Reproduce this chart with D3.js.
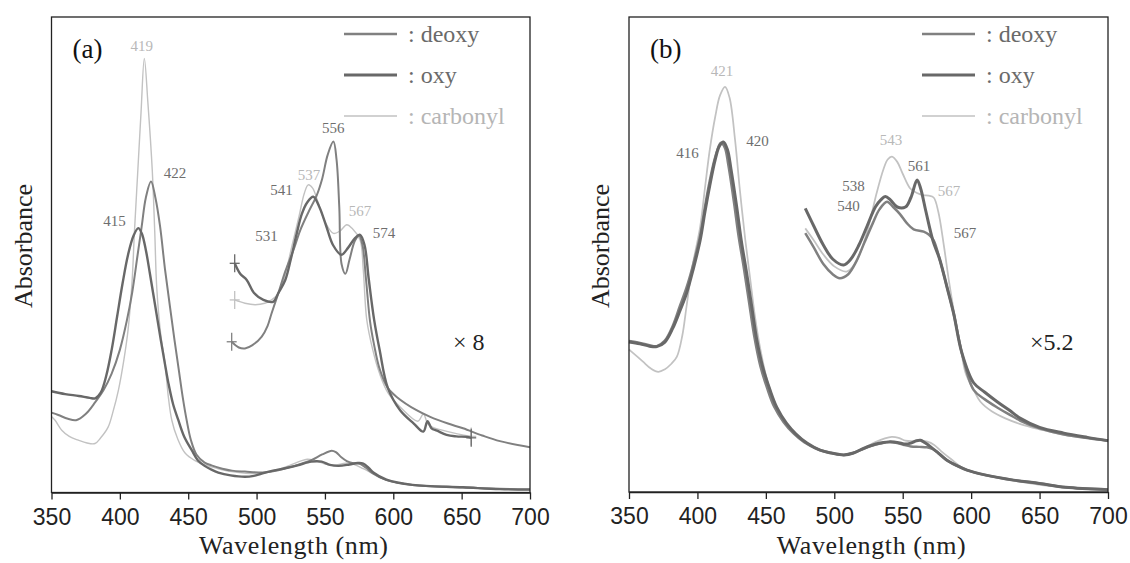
<!DOCTYPE html>
<html>
<head>
<meta charset="utf-8">
<script src="https://cdn.jsdelivr.net/npm/d3@7"></script>
<style>
  body { margin: 0; background: #fff; }
  svg { display: block; }
</style>
</head>
<body>
<svg id="chart" width="1130" height="563"></svg>
<script>
// ---- panel (a) ----
const deoxyA_wl = [350,355,362,368,375,382,388,394,400,405,409,413,416,419,422.8,426,429.4,433,436.7,440,443,446,449,452,456,462,467,475,482,491.5,506,515,521,530,540,548,555,558,562,566,570,576,580,585,595,614,651,678,700];
const deoxyA_abs = [.168,.163,.155,.152,.165,.19,.215,.25,.30,.36,.42,.50,.56,.62,.654,.62,.56,.47,.39,.32,.26,.20,.15,.11,.08,.063,.057,.05,.046,.044,.042,.046,.051,.058,.068,.08,.088,.085,.074,.066,.062,.06,.052,.04,.026,.016,.011,.008,.007];

const oxyA_wl = [350,360,370,378,382,386,390,394,398,402,406,410,413.5,416,419,422,426,430,433,435.5,439,442.8,447,452.6,457,462,467,472,481,491.5,498,503.8,512,521,530,540,547.6,553.7,560,568,574,578,582,585.4,595,614,651,678,700];
const oxyA_abs = [.213,.207,.203,.199,.198,.21,.245,.30,.37,.44,.50,.54,.556,.545,.51,.46,.39,.32,.27,.23,.185,.152,.118,.089,.068,.056,.048,.042,.036,.033,.035,.040,.046,.051,.057,.065,.065,.058,.056,.059,.062,.061,.052,.042,.027,.016,.011,.007,.006];

const carbonylA_wl = [350,352.6,357.5,363,369.6,376,381.8,386,391.5,395,399,403,406,409,410.6,413,415.5,417.9,420.5,423.7,425.5,427,430,433,435.5,438,442,447.7,455,462,472,481.8,495,506,515,525,532,537,542,550,557,562,567,572,578,585,595,614,651,700];
const carbonylA_abs = [.16,.152,.131,.118,.11,.104,.103,.115,.138,.17,.216,.28,.342,.447,.545,.67,.80,.913,.82,.678,.55,.43,.33,.272,.20,.152,.115,.083,.067,.058,.05,.044,.04,.042,.048,.058,.066,.07,.068,.06,.058,.06,.062,.058,.05,.04,.026,.016,.010,.006];

// x8 magnified
const deoxyXA_wl = [481.8,487,491.5,497,503.8,508,511,516,521,527,532,538,544,548,552,556.2,558.5,560.5,562.2,565,568,572,575,577.5,580,583,586,590,596,602.5,617,627,640,651,665,678,700];
const deoxyXA_abs = [.317,.305,.303,.31,.328,.35,.377,.42,.465,.51,.552,.59,.625,.66,.71,.738,.70,.60,.48,.46,.49,.53,.54,.52,.45,.36,.31,.26,.22,.201,.173,.159,.145,.135,.12,.108,.095];

const oxyXA_wl = [484,488,492.8,498,505,512,516,521,525,529.4,533,537,541.5,546,551,556,562,567,572,575.7,579,582,586,590,596,605,615,622,625,628,632,639,646,653.7,657];
const oxyXA_abs = [.482,.46,.447,.42,.405,.401,.42,.447,.49,.545,.585,.61,.622,.60,.56,.52,.50,.515,.535,.542,.52,.45,.363,.30,.22,.173,.145,.128,.15,.135,.13,.121,.118,.117,.115];

const carbonylXA_wl = [484,491.5,499,506,511,516,521,526,531,535,537.8,541,545,550,556.2,561,566,570,575.7,578,580.6,585,590,596,605,618,622,626,640,657];
const carbonylXA_abs = [.405,.398,.395,.398,.405,.419,.46,.52,.58,.63,.647,.64,.61,.57,.545,.55,.563,.555,.531,.47,.363,.30,.25,.21,.18,.15,.165,.142,.128,.118];

const labelsA_text = ["419","422","415","556","537","541","567","574","531"];
const labelsA_wl = [416,440.3,396,556.1,538.4,518.3,575.7,593.2,507.3];
const labelsA_abs = [.928,.661,.560,.756,.657,.626,.581,.535,.529];
const labelsA_series = ["carbonyl","deoxy","oxy","deoxy","carbonyl","oxy","carbonyl","oxy","oxy"];

// ---- panel (b) ----
const oxyB_wl = [350,358,365,370.3,376,382,387,392,397,402,405.5,409,413,416,419,422,424.5,428.7,432,436,439.7,443.4,448,453,458,465,472,480,489.6,498,507,514,521.4,527,533.6,541,547,551,556,560,563,566,570,576,582.3,590,597,610,631,650,669,700];
const oxyB_abs = [.316,.312,.307,.306,.315,.345,.38,.418,.47,.53,.59,.645,.70,.728,.737,.72,.68,.60,.53,.46,.39,.32,.26,.215,.178,.145,.122,.103,.088,.082,.078,.082,.092,.098,.103,.106,.104,.101,.103,.108,.109,.104,.096,.082,.067,.055,.046,.036,.025,.018,.01,.005];

const deoxyB_wl = [350,358,365,370.3,376,382,387,392,397,402,405.5,409,413,417,420,422.5,426.7,430,434,437.7,441.4,446,451,456,463,470,478,488,498,507,514,521.4,527,533.6,540,546,551,556,562,567.7,572,577,582.3,590,597,610,631,650,669,700];
const deoxyB_abs = [.318,.314,.309,.307,.318,.35,.39,.43,.48,.54,.60,.655,.705,.735,.725,.69,.61,.54,.47,.40,.33,.265,.218,.18,.147,.124,.105,.09,.082,.078,.082,.091,.097,.102,.105,.103,.099,.096,.095,.094,.09,.08,.067,.055,.046,.036,.025,.018,.01,.005];

const carbonylB_wl = [350,352,360,366,371.4,376,381,385,389,392,396,402,405.5,409,413,416.5,420.2,423.5,427.5,431,435,438.5,442,446,451,457,465,480,490,500,509,520,530,537,542,547,552,557,562,568,573,578,585,597,631,669,700];
const carbonylB_abs = [.30,.295,.275,.26,.253,.258,.27,.285,.33,.39,.47,.558,.64,.72,.79,.835,.853,.83,.741,.636,.53,.45,.37,.30,.235,.185,.145,.103,.088,.08,.079,.09,.105,.113,.116,.114,.108,.107,.108,.106,.099,.086,.07,.046,.024,.009,.005];

// x5.2 magnified
const oxyXB_wl = [478.8,485,492,499,506.8,512,518,524,530,534,537.3,541,546,552,556,560.5,563,567,572,577,582.3,587.2,593.3,601.8,610,619,628,636,650,667.7,685,700];
const oxyXB_abs = [.597,.56,.52,.49,.478,.49,.52,.56,.60,.615,.622,.615,.60,.60,.62,.657,.64,.59,.53,.49,.432,.376,.292,.23,.21,.19,.172,.155,.136,.124,.115,.108];

const deoxyXB_wl = [478.8,485,492,499,504,510,516,522,528,533,538.5,543,548,553,558,565.3,569,572.6,577,582.3,587.2,593.3,601.8,610,619,628,636,650,668,700];
const deoxyXB_abs = [.545,.515,.48,.458,.45,.458,.485,.525,.565,.595,.611,.60,.585,.566,.553,.548,.542,.53,.49,.432,.376,.292,.215,.195,.178,.163,.15,.134,.121,.108];

const carbonylXB_wl = [478.8,485,492,500,509,515,521,526,531,536,539,542.1,546,550,555.5,560,565,569,572.6,576,580,584,588,592,596,601.8,606.8,615,625,636,650,668,700];
const carbonylXB_abs = [.555,.53,.50,.475,.464,.48,.52,.57,.63,.68,.70,.706,.695,.67,.639,.63,.625,.624,.62,.59,.52,.44,.37,.31,.25,.215,.19,.17,.155,.143,.132,.12,.108];

const labelsB_text = ["421","416","420","543","561","538","567","540","567"];
const labelsB_wl = [418,392.7,443.9,541.4,561.9,514,583.8,510.4,595.5];
const labelsB_abs = [.876,.703,.728,.731,.676,.634,.623,.592,.535];
const labelsB_series = ["carbonyl","deoxy","oxy","carbonyl","oxy","oxy","carbonyl","deoxy","deoxy"];

// shared
const tickValues = [350,400,450,500,550,600,650,700];
const legendNames = ["deoxy","oxy","carbonyl"];

const color = { deoxy: "#808080", oxy: "#686868", carbonyl: "#c2c2c2" };
const width = { deoxy: 2, oxy: 2.4, carbonyl: 1.4 };
const labelColor = { deoxy: "#6e6e6e", oxy: "#6e6e6e", carbonyl: "#b8b8b8" };

const serif = "'Liberation Serif', 'Times New Roman', Times, serif";
const sans = "'Liberation Sans', Arial, Helvetica, sans-serif";

const svg = d3.select("#chart");

function pairs(wl, abs) {
  return wl.map((w, i) => [w, abs[i]]);
}

function drawPanel(p) {
  const x = d3.scaleLinear().domain([350, 700]).range([p.left, p.right]);
  const y = d3.scaleLinear().domain([0, 1]).range([p.bottom, p.top]);

  const g = svg.append("g");

  const line = d3.line()
    .x(d => x(d[0]))
    .y(d => y(d[1]))
    .curve(d3.curveCatmullRom.alpha(0.5));

  // curves, light ones first
  const order = ["carbonyl", "deoxy", "oxy"];
  order.forEach(name => {
    p.series.filter(s => s.name === name).forEach(s => {
      const pts = pairs(s.wl, s.abs);
      g.append("path")
        .datum(pts)
        .attr("fill", "none")
        .attr("stroke", color[name])
        .attr("stroke-width", width[name] * p.lw)
        .attr("stroke-linejoin", "round")
        .attr("d", line);

      // little cut marks where a magnified trace stops inside the frame
      if (s.marks) {
        const ends = [pts[0]];
        if (pts[pts.length - 1][0] < 700) ends.push(pts[pts.length - 1]);
        ends.forEach(e => {
          g.append("line")
            .attr("x1", x(e[0])).attr("x2", x(e[0]))
            .attr("y1", y(e[1]) - 9).attr("y2", y(e[1]) + 9)
            .attr("stroke", color[name]).attr("stroke-width", 1.3);
          g.append("line")
            .attr("x1", x(e[0]) - 5).attr("x2", x(e[0]) + 5)
            .attr("y1", y(e[1])).attr("y2", y(e[1]))
            .attr("stroke", color[name]).attr("stroke-width", 1.3);
        });
      }
    });
  });

  // frame
  g.append("rect")
    .attr("x", p.left).attr("y", p.top)
    .attr("width", p.right - p.left).attr("height", p.bottom - p.top)
    .attr("fill", "none").attr("stroke", "#222").attr("stroke-width", 1.3);

  const axis = g.append("g")
    .attr("transform", `translate(0,${p.bottom})`)
    .call(d3.axisBottom(x).tickValues(tickValues).tickSize(7).tickSizeOuter(0).tickPadding(9));
  axis.select(".domain").attr("stroke", "#222").attr("stroke-width", 1.3);
  axis.selectAll(".tick line").attr("stroke", "#222").attr("stroke-width", 1.3);
  axis.selectAll(".tick text")
    .attr("fill", "#222")
    .style("font-family", sans)
    .style("font-size", "23px");

  // peak labels
  g.selectAll(".peak")
    .data(p.labels.text.map((t, i) => ({ t, w: p.labels.wl[i], a: p.labels.abs[i], s: p.labels.series[i] })))
    .join("text")
    .attr("x", d => x(d.w))
    .attr("y", d => y(d.a))
    .attr("text-anchor", "middle")
    .attr("fill", d => labelColor[d.s])
    .style("font-family", serif)
    .style("font-size", "15px")
    .text(d => d.t);

  // magnification
  g.append("text")
    .attr("x", x(p.mag.wl)).attr("y", y(p.mag.abs))
    .attr("fill", "#222")
    .style("font-family", serif)
    .style("font-size", "24px")
    .text(p.mag.text);

  // panel letter
  g.append("text")
    .attr("x", p.left + 21).attr("y", 58)
    .attr("fill", "#111")
    .style("font-family", serif)
    .style("font-size", "27px")
    .text(p.letter);

  // legend
  const lg = g.append("g").attr("transform", `translate(${p.right - 186},0)`);
  legendNames.forEach((name, i) => {
    const ly = 34 + i * 41;
    lg.append("line")
      .attr("x1", 0).attr("x2", 53).attr("y1", ly).attr("y2", ly)
      .attr("stroke", color[name]).attr("stroke-width", width[name] * 1.2);
    lg.append("text")
      .attr("x", 64).attr("y", ly + 8)
      .attr("fill", name === "carbonyl" ? "#b5b5b5" : "#6a6a6a")
      .style("font-family", serif)
      .style("font-size", "24px")
      .text(": " + name);
  });

  // axis titles
  g.append("text")
    .attr("x", (p.left + p.right) / 2 + 3).attr("y", 554)
    .attr("text-anchor", "middle")
    .attr("fill", "#222")
    .style("font-family", serif)
    .style("font-size", "26px")
    .style("letter-spacing", "0.6px")
    .text("Wavelength (nm)");

  g.append("text")
    .attr("transform", `translate(${p.left - 20},${246}) rotate(-90)`)
    .attr("text-anchor", "middle")
    .attr("fill", "#222")
    .style("font-family", serif)
    .style("font-size", "26px")
    .text("Absorbance");
}

drawPanel({
  left: 51.5, right: 530, top: 17, bottom: 492.5, lw: 1, letter: "(a)",
  series: [
    { name: "deoxy", wl: deoxyA_wl, abs: deoxyA_abs },
    { name: "oxy", wl: oxyA_wl, abs: oxyA_abs },
    { name: "carbonyl", wl: carbonylA_wl, abs: carbonylA_abs },
    { name: "deoxy", wl: deoxyXA_wl, abs: deoxyXA_abs, marks: true },
    { name: "oxy", wl: oxyXA_wl, abs: oxyXA_abs, marks: true },
    { name: "carbonyl", wl: carbonylXA_wl, abs: carbonylXA_abs, marks: true }
  ],
  labels: { text: labelsA_text, wl: labelsA_wl, abs: labelsA_abs, series: labelsA_series },
  mag: { text: "× 8", wl: 643.7, abs: 0.30 }
});

drawPanel({
  left: 629, right: 1108, top: 17, bottom: 492, lw: 1.25, letter: "(b)",
  series: [
    { name: "deoxy", wl: deoxyB_wl, abs: deoxyB_abs },
    { name: "oxy", wl: oxyB_wl, abs: oxyB_abs },
    { name: "carbonyl", wl: carbonylB_wl, abs: carbonylB_abs },
    { name: "deoxy", wl: deoxyXB_wl, abs: deoxyXB_abs },
    { name: "oxy", wl: oxyXB_wl, abs: oxyXB_abs },
    { name: "carbonyl", wl: carbonylXB_wl, abs: carbonylXB_abs }
  ],
  labels: { text: labelsB_text, wl: labelsB_wl, abs: labelsB_abs, series: labelsB_series },
  mag: { text: "×5.2", wl: 643, abs: 0.299 }
});
</script>
</body>
</html>
